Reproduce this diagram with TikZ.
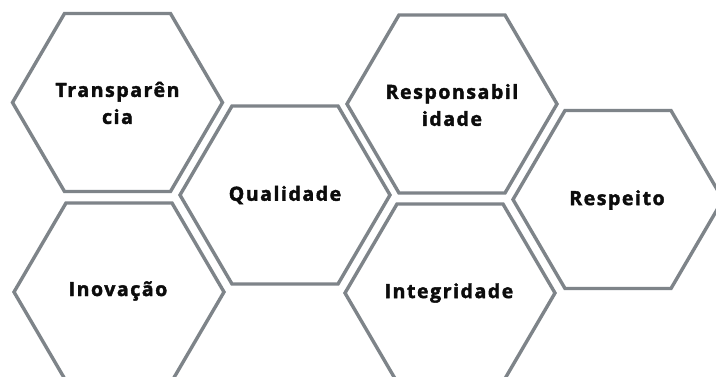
\documentclass[tikz,border=0pt]{standalone}
\usepackage{fontspec}
\setmainfont{Open Sans}[LetterSpace=8,BoldFeatures={FakeBold=2}]
\definecolor{hexgray}{RGB}{126,132,137}
\definecolor{txt}{RGB}{12,12,12}
\begin{document}
\begin{tikzpicture}[x=1pt,y=-1pt,
  hexline/.style={draw=hexgray,line width=3.4pt,line join=miter},
  label/.style={text=txt,font=\fontsize{19.5}{27}\selectfont\bfseries,align=center,inner sep=0pt}]
\useasboundingbox[fill=white] (0,0) rectangle (716,376);
\def\hexpath{++(-105,0) -- ++(52,-89) -- ++(106,0) -- ++(52,89) -- ++(-52,89) -- ++(-106,0) -- cycle}
% Transparência
\draw[hexline] (117.5,102.5) \hexpath;
\node[label] (t) at (117.5,103) {Transparên\\cia};
% Qualidade
\draw[hexline] (285,195) \hexpath;
\node[label] (q) at (285,195) {Qualidade};
% Responsabilidade
\draw[hexline] (452,104) \hexpath;
\node[label] (r) at (452,105) {Responsabil\\idade};
% Respeito
\draw[hexline] (618,199.5) \hexpath;
\node[label] (rp) at (617,200) {Respeito};
% Inovação
\draw[hexline] (119,292) \hexpath;
\node[label] (i) at (118,291) {Inovação};
% Integridade
\draw[hexline] (450,293) \hexpath;
\node[label] (ig) at (449,293) {Integridade};
\end{tikzpicture}
\end{document}
